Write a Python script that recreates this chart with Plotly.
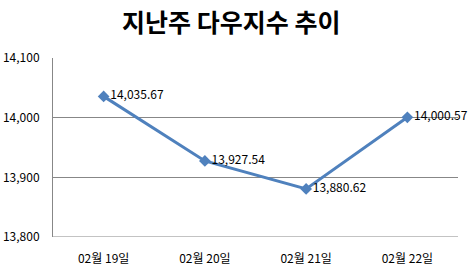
import plotly.graph_objects as go

categories = ["02월 19일", "02월 20일", "02월 21일", "02월 22일"]
values = [14035.67, 13927.54, 13880.62, 14000.57]
labels = ["14,035.67", "13,927.54", "13,880.62", "14,000.57"]
y_ticks = [13800, 13900, 14000, 14100]
y_ticklabels = ["13,800", "13,900", "14,000", "14,100"]

font_kr = "Noto Sans CJK KR"

fig = go.Figure()
fig.add_trace(go.Scatter(
    x=categories, y=values, mode="lines+markers+text",
    line=dict(color="#4F81BD", width=3),
    marker=dict(symbol="diamond", size=9, color="#4F81BD"),
    text=labels, textposition="middle right",
    textfont=dict(family=font_kr, size=12, color="#000000"),
    hoverinfo="skip", cliponaxis=False,
))

fig.update_layout(
    width=470, height=270,
    margin=dict(l=53, r=12, t=58, b=33, autoexpand=False),
    paper_bgcolor="white", plot_bgcolor="white",
    showlegend=False,
    title=dict(text="<b>지난주 다우지수 추이</b>", x=0.492, xanchor="center",
               y=0.915, yanchor="middle",
               font=dict(family=font_kr, size=25, color="#000000")),
    xaxis=dict(type="category", showgrid=False, zeroline=False, automargin=False,
               showline=False, ticks="", ticklabelstandoff=13,
               tickfont=dict(family=font_kr, size=12, color="#000000"),
               range=[-0.5, 3.5]),
    yaxis=dict(range=[13800, 14100], tickvals=y_ticks, ticktext=y_ticklabels,
               showgrid=True, gridcolor="#878787", gridwidth=1, automargin=False,
               zeroline=False, showline=True, linecolor="#878787", linewidth=1,
               ticks="", ticklen=0, ticklabelstandoff=10,
               tickfont=dict(family=font_kr, size=12, color="#000000")),
)
fig.add_shape(type="line", xref="paper", yref="y", x0=0, x1=1, y0=13800, y1=13800,
              line=dict(color="#878787", width=1))

fig.write_html("out.html")
